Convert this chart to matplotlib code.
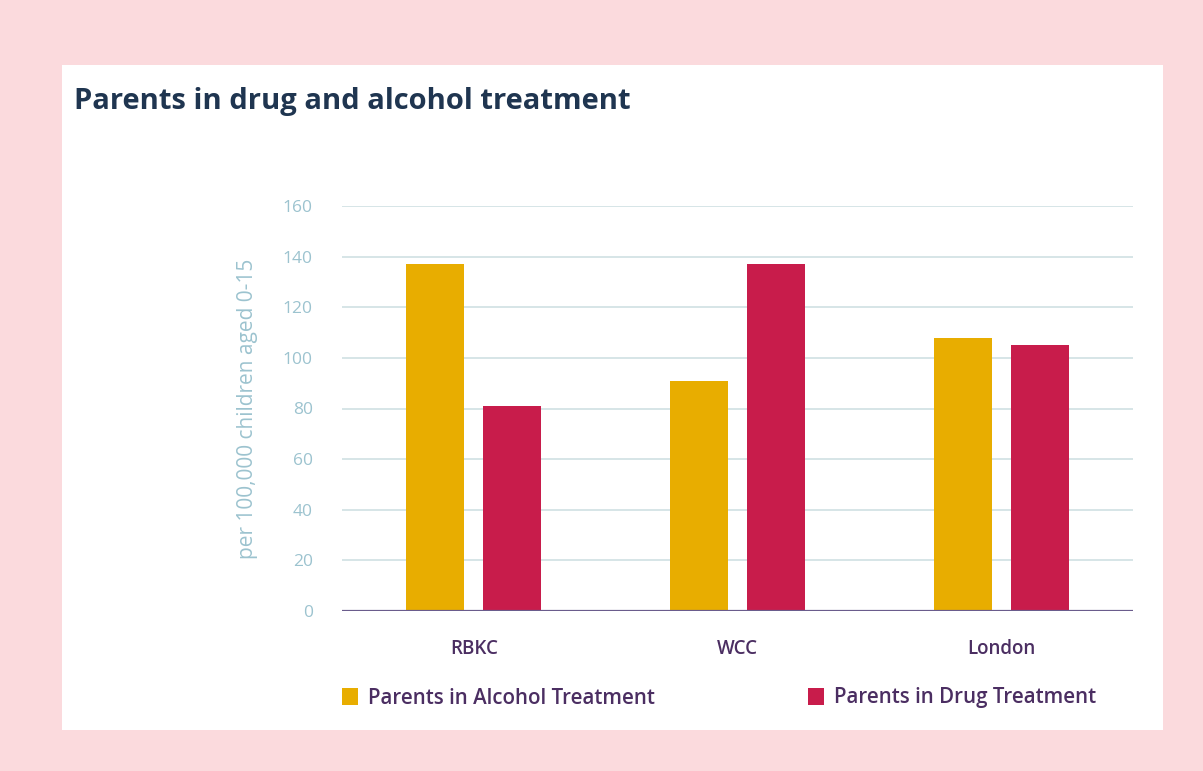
import matplotlib.pyplot as plt
import numpy as np
from matplotlib.patches import Rectangle

categories = ['RBKC', 'WCC', 'London']
alcohol = [137, 91, 108]
drug = [81, 137, 105]
series_names = ['Parents in Alcohol Treatment', 'Parents in Drug Treatment']
yticks = [0, 20, 40, 60, 80, 100, 120, 140, 160]

W, H = 1203, 771
yellow = '#e8ad00'
red = '#c81c4b'

plt.rcParams['font.family'] = ['Open Sans', 'DejaVu Sans']

fig = plt.figure(figsize=(W / 100, H / 100), dpi=100)
fig.patch.set_facecolor('#fbdadd')

# white card
fig.patches.append(Rectangle((62 / W, 1 - 730 / H), (1163 - 62) / W, (730 - 65) / H,
                             transform=fig.transFigure, facecolor='white',
                             edgecolor='none', zorder=-5))

fig.text(74 / W, 1 - 101 / H, 'Parents in drug and alcohol treatment',
         fontsize=21, fontweight='bold', color='#1f3550', va='center', ha='left')

ax = fig.add_axes([342 / W, 1 - 611 / H, (1133 - 342) / W, (611 - 206) / H])
ax.set_facecolor('none')
ax.set_zorder(2)

x = np.arange(len(categories))
w = 0.22
off = 0.146
ax.bar(x - off, alcohol, w, color=yellow, zorder=3)
ax.bar(x + off, drug, w, color=red, zorder=3)

ax.set_xlim(-0.5, len(categories) - 0.5)
ax.set_ylim(0, 160)
ax.set_yticks(yticks)
ax.yaxis.grid(True, color='#cfe0e3', linewidth=1.2, zorder=0)
ax.set_axisbelow(True)
for s in ['top', 'right', 'left', 'bottom']:
    ax.spines[s].set_visible(False)
ax.axhline(0, color='#6a5c8c', linewidth=1.6, zorder=4)

ax.tick_params(axis='y', length=0, pad=21, labelsize=12.5, labelcolor='#9cc3cf')
ax.set_yticklabels([str(t) for t in yticks])
ax.set_xticks(x)
ax.set_xticklabels(categories, fontsize=13.5, fontweight='semibold', color='#4b2e62')
ax.tick_params(axis='x', length=0, pad=20)

ax.set_ylabel('per 100,000 children aged 0-15', fontsize=15, color='#9cc3cf', labelpad=18)

# legend
for lx, col, name in [(342, yellow, series_names[0]), (808, red, series_names[1])]:
    fig.patches.append(Rectangle((lx / W, 1 - 705 / H), 16 / W, 17 / H,
                                 transform=fig.transFigure, facecolor=col,
                                 edgecolor='none'))
    fig.text((lx + 26) / W, 1 - 698 / H, name, fontsize=14.8, fontweight='semibold',
             color='#4b2e62', va='center', ha='left')

fig.savefig('out.png', dpi=100, facecolor=fig.get_facecolor())
